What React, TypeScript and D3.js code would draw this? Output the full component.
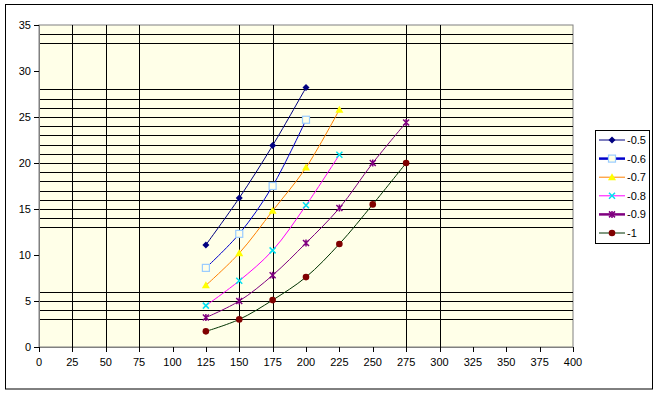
import React from "react";
import * as d3 from "d3";

const xValues = [125, 150, 175, 200, 225, 250, 275];
const seriesNames = ["-0.5", "-0.6", "-0.7", "-0.8", "-0.9", "-1"];
const s05 = [11.1, 16.2, 21.9, 28.2];
const s06 = [8.6, 12.3, 17.5, 24.7];
const s07 = [6.7, 10.2, 14.8, 19.5, 25.8];
const s08 = [4.5, 7.2, 10.5, 15.4, 20.9];
const s09 = [3.2, 5.0, 7.8, 11.3, 15.1, 20.0, 24.4];
const s10 = [1.7, 3.0, 5.1, 7.6, 11.2, 15.5, 20.0];
const xTicks = d3.range(0, 401, 25);
const yTicks = d3.range(0, 36, 5);
const hGrid = [3, 4, 5, 6, 13, 14, 15, 16, 17, 18, 19, 20, 21, 22, 23, 24, 25, 26, 27, 28, 33, 34];
const vGrid = [25, 50, 75, 150, 175, 275, 300];

const styles = [
  { line: "#000080", marker: "diamond", fill: "#000080", stroke: "#000080" },
  { line: "#0000cc", marker: "square", fill: "none", stroke: "#99ccff" },
  { line: "#ff8000", marker: "triangle", fill: "#ffff00", stroke: "#ffff00" },
  { line: "#ff00ff", marker: "x", fill: "none", stroke: "#00e0f0" },
  { line: "#800080", marker: "star", fill: "none", stroke: "#800080" },
  { line: "#003300", marker: "circle", fill: "#800000", stroke: "#800000" },
];

function Marker({ x, y, st }: any) {
  switch (st.marker) {
    case "diamond":
      return <path d={`M${x},${y - 3.5}L${x + 3.5},${y}L${x},${y + 3.5}L${x - 3.5},${y}Z`} fill={st.fill} />;
    case "square":
      return <rect x={x - 3.5} y={y - 3.5} width={7} height={7} fill="#ffffe8" stroke={st.stroke} strokeWidth={1.2} />;
    case "triangle":
      return <path d={`M${x},${y - 4}L${x + 4},${y + 3}L${x - 4},${y + 3}Z`} fill={st.fill} />;
    case "x":
      return <path d={`M${x - 3},${y - 3}L${x + 3},${y + 3}M${x - 3},${y + 3}L${x + 3},${y - 3}`} stroke={st.stroke} strokeWidth={1.5} />;
    case "star":
      return (
        <path
          d={`M${x - 3},${y - 3}L${x + 3},${y + 3}M${x - 3},${y + 3}L${x + 3},${y - 3}M${x},${y - 3.5}L${x},${y + 3.5}`}
          stroke={st.stroke}
          strokeWidth={1.5}
        />
      );
    default:
      return <circle cx={x} cy={y} r={3.3} fill={st.fill} />;
  }
}

export default function App() {
  const series = [s05, s06, s07, s08, s09, s10];
  const x = d3.scaleLinear().domain([0, 400]).range([39, 573]);
  const y = d3.scaleLinear().domain([0, 35]).range([347, 25]);
  const line = d3
    .line<number>()
    .x((_, i) => x(xValues[i]))
    .y((d) => y(d))
    .curve(d3.curveCatmullRom.alpha(0.5));

  return (
    <svg width={658} height={395} style={{ position: "absolute", left: 0, top: 0 }} fontFamily="'Liberation Sans', Arial, sans-serif" fontSize={11}>
      <rect x={5.5} y={4.5} width={647} height={384.5} fill="#fff" stroke="#000" />
      <rect x={x(0)} y={y(35)} width={x(400) - x(0)} height={y(0) - y(35)} fill="#ffffe8" stroke="#808080" />
      {hGrid.map((g) => (
        <line key={"h" + g} x1={x(0)} x2={x(400)} y1={Math.round(y(g)) + 0.5} y2={Math.round(y(g)) + 0.5} stroke="#000" />
      ))}
      {vGrid.map((g) => (
        <line key={"v" + g} x1={Math.round(x(g)) + 0.5} x2={Math.round(x(g)) + 0.5} y1={y(35)} y2={y(0)} stroke="#000" />
      ))}
      <line x1={x(0) + 0.5} x2={x(0) + 0.5} y1={y(35)} y2={y(0)} stroke="#808080" />
      <line x1={x(0)} x2={x(400)} y1={y(0) + 0.5} y2={y(0) + 0.5} stroke="#808080" />
      {xTicks.map((t) => (
        <g key={"xt" + t}>
          <line x1={Math.round(x(t)) + 0.5} x2={Math.round(x(t)) + 0.5} y1={y(0)} y2={y(0) + 5} stroke="#000" />
          <text x={x(t)} y={y(0) + 19} textAnchor="middle">{t}</text>
        </g>
      ))}
      {yTicks.map((t) => (
        <g key={"yt" + t}>
          <line x1={x(0) - 5} x2={x(0)} y1={Math.round(y(t)) + 0.5} y2={Math.round(y(t)) + 0.5} stroke="#000" />
          <text x={x(0) - 8} y={y(t) + 4} textAnchor="end">{t}</text>
        </g>
      ))}
      {series.map((s, si) => (
        <g key={"s" + si}>
          <path d={line(s) || ""} fill="none" stroke={styles[si].line} strokeWidth={1} />
          {s.map((v, i) => (
            <Marker key={i} x={x(xValues[i])} y={y(v)} st={styles[si]} />
          ))}
        </g>
      ))}
      <rect x={595.5} y={130.5} width={54} height={113} fill="#fff" stroke="#000" />
      {seriesNames.map((n, i) => {
        const ly = 140 + i * 18.6;
        const thick = i === 1 || i === 4;
        return (
          <g key={"l" + n}>
            <line x1={599} x2={625} y1={ly} y2={ly} stroke={styles[i].line} strokeWidth={thick ? 2.5 : 1} />
            <Marker x={612} y={ly} st={styles[i]} />
            <text x={627} y={ly + 4}>{n}</text>
          </g>
        );
      })}
    </svg>
  );
}
